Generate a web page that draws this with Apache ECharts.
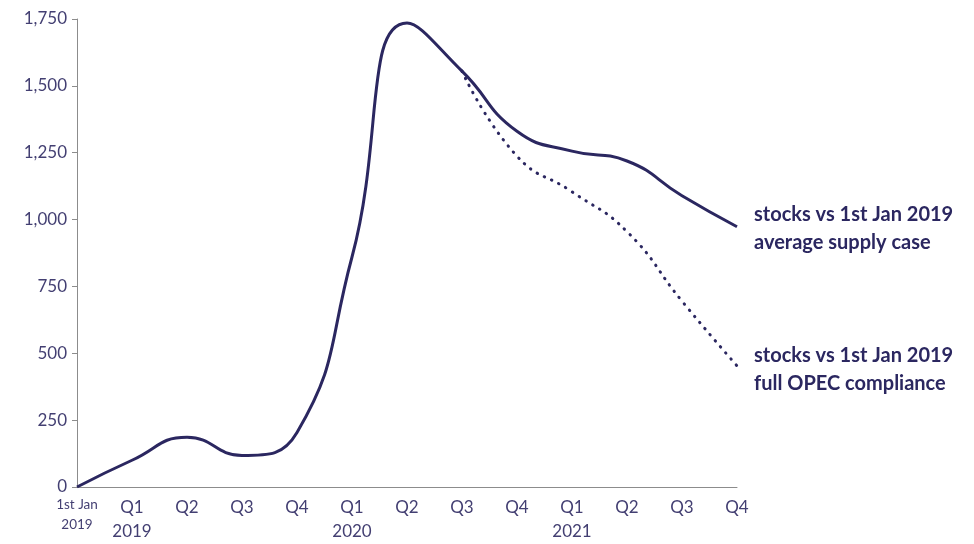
<!DOCTYPE html>
<html><head><meta charset="utf-8">
<script src="https://cdn.jsdelivr.net/npm/echarts@6/dist/echarts.min.js"></script>
<style>html,body{margin:0;padding:0;background:#fff}#c{width:974px;height:544px}</style>
</head><body><div id="c"></div>
<script>
var categories = ['1st Jan\n2019','Q1\n2019','Q2','Q3','Q4','Q1\n2020','Q2','Q3','Q4','Q1\n2021','Q2','Q3','Q4'];
var averageSupply = [0, 100, 186, 118, 204, 860, 1735, 1555, 1330, 1256, 1219, 1089, 973];
var fullCompliance = [null, null, null, null, null, null, null, 1555, 1237, 1104, 955, 695, 453];
var yTicks = [0, 250, 500, 750, 1000, 1250, 1500, 1750];
var seriesNames = ['stocks vs 1st Jan 2019\naverage supply case', 'stocks vs 1st Jan 2019\nfull OPEC compliance'];

var lineColor = '#2b2760';
var textColor = '#433f72';
var font = 'Lato';
var chart = echarts.init(document.getElementById('c'), null, {renderer: 'canvas'});
chart.setOption({
  animation: false,
  grid: {left: 77, right: 237, top: 19, bottom: 54, containLabel: false},
  xAxis: {
    type: 'category', data: categories, boundaryGap: false,
    axisLine: {lineStyle: {color: '#8c8c8c', width: 1}},
    axisTick: {show: false},
    axisLabel: {
      interval: 0, color: textColor, fontFamily: font, fontSize: 17, lineHeight: 24, margin: 9,
      formatter: function (v, i) {
        if (i === 0) return '{s|1st Jan}\n{s2|2019}';
        return v;
      },
      rich: {
        s: {fontSize: 13.5, lineHeight: 18, color: textColor, fontFamily: font},
        s2: {fontSize: 13.5, lineHeight: 22, color: textColor, fontFamily: font}
      }
    }
  },
  yAxis: {
    type: 'value', min: yTicks[0], max: yTicks[yTicks.length - 1], interval: 250,
    axisLine: {show: true, lineStyle: {color: '#8c8c8c', width: 1}},
    axisTick: {show: true, length: 5, lineStyle: {color: '#8c8c8c'}},
    splitLine: {show: false},
    axisLabel: {
      color: textColor, fontFamily: font, fontSize: 17, margin: 10,
      formatter: function (v) { return v.toLocaleString('en-US'); }
    }
  },
  series: [
    {
      name: seriesNames[0], type: 'line', data: averageSupply, smooth: 0.5,
      showSymbol: false, symbol: 'none',
      lineStyle: {color: lineColor, width: 3},
      endLabel: {show: true, formatter: seriesNames[0], distance: 17, offset: [0, 2], color: lineColor,
        fontFamily: font, fontWeight: 'bold', fontSize: 20, lineHeight: 28, align: 'left'}
    },
    {
      name: seriesNames[1], type: 'line', data: fullCompliance, smooth: 0.5,
      showSymbol: false, symbol: 'none', connectNulls: false,
      lineStyle: {color: lineColor, width: 3, type: [0.5, 7.5], cap: 'round'},
      endLabel: {show: true, formatter: seriesNames[1], distance: 17, offset: [0, 4], color: lineColor,
        fontFamily: font, fontWeight: 'bold', fontSize: 20, lineHeight: 28, align: 'left'}
    }
  ]
});
</script></body></html>
